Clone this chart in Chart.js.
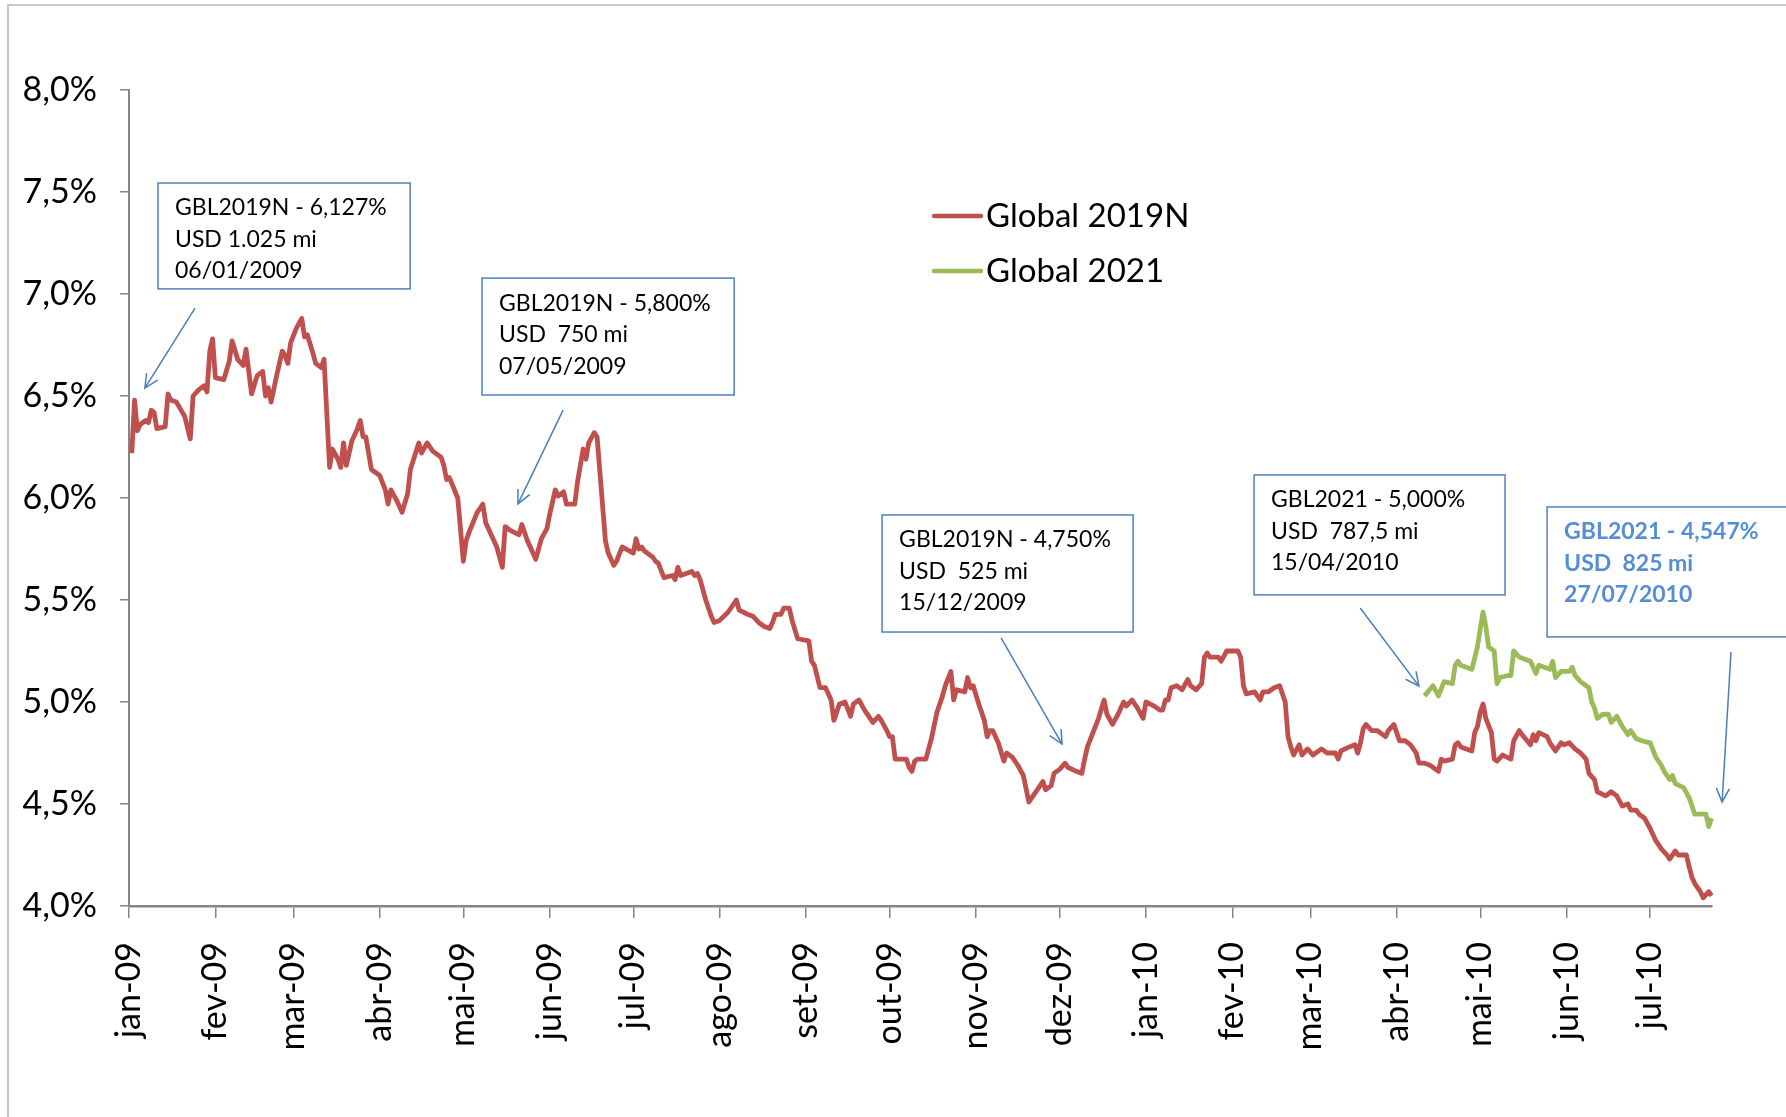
<!DOCTYPE html>
<html>
<head>
<meta charset="utf-8">
<script src="https://cdn.jsdelivr.net/npm/chart.js@4.4.1/dist/chart.umd.min.js"></script>
<style>
html,body{margin:0;padding:0;background:#fff;}
#wrap{position:relative;width:1786px;height:1117px;}
</style>
</head>
<body>
<div id="wrap"><canvas id="c" width="1786" height="1117"></canvas></div>
<script>
// ---------------- DATA ----------------
const seriesNames = ['Global 2019N', 'Global 2021'];
const monthLabels = ['jan-09','fev-09','mar-09','abr-09','mai-09','jun-09','jul-09','ago-09','set-09','out-09','nov-09','dez-09',
                     'jan-10','fev-10','mar-10','abr-10','mai-10','jun-10','jul-10'];
// x values: days counted from 01/01/2009
const days2019N = [1,2,3,4,6,7,8,9,10,13,14,15,17,20,22,23,25,27,28,29,30,31,34,36,37,39,41,42,44,46,48,49,50,51,53,55,56,57,58,60,62,63,64,66,67,69,70,72,73,75,76,77,78,80,82,83,84,85,87,90,92,93,94,96,98,100,101,104,105,107,109,112,113,114,115,118,120,121,122,125,127,128,132,134,135,137,140,141,143,146,148,150,151,152,153,154,156,157,160,161,163,164,165,167,168,171,172,174,175,177,181,182,183,184,185,188,189,190,192,195,196,197,198,202,203,204,205,207,209,210,212,215,218,219,222,224,226,228,230,231,232,234,235,237,238,240,244,245,246,248,250,252,253,255,257,259,260,262,264,267,269,270,272,273,274,275,277,279,280,281,282,283,286,288,290,292,293,295,296,297,300,301,302,303,305,307,308,309,310,312,314,315,317,319,321,323,325,328,329,331,332,334,336,337,340,342,343,344,346,348,350,351,353,355,357,358,360,362,364,365,368,370,371,372,373,374,376,378,380,381,383,385,386,387,388,391,392,394,396,398,399,400,401,404,406,407,409,411,413,415,416,417,418,420,421,423,425,428,430,433,434,435,438,440,441,442,443,444,446,448,451,452,454,456,458,460,462,463,465,467,470,471,472,475,476,477,478,482,483,484,485,486,487,489,490,491,493,496,497,499,500,503,504,505,506,509,510,512,514,515,517,519,521,523,524,526,527,530,532,534,536,538,539,541,542,544,546,548,550,552,553,555,556,559,560,561,562,564,565,567,568];
const values2019N = [6.22,6.48,6.33,6.36,6.38,6.37,6.43,6.42,6.34,6.35,6.51,6.48,6.47,6.40,6.29,6.50,6.53,6.55,6.52,6.72,6.78,6.59,6.58,6.67,6.77,6.68,6.65,6.73,6.51,6.60,6.62,6.50,6.54,6.47,6.60,6.72,6.70,6.66,6.76,6.83,6.88,6.79,6.80,6.71,6.66,6.64,6.68,6.15,6.24,6.19,6.15,6.27,6.16,6.28,6.34,6.38,6.30,6.30,6.14,6.11,6.04,5.97,6.04,5.99,5.93,6.02,6.14,6.27,6.22,6.27,6.23,6.20,6.16,6.09,6.10,6.00,5.69,5.79,5.83,5.93,5.97,5.88,5.76,5.66,5.86,5.84,5.82,5.87,5.79,5.70,5.80,5.85,5.92,5.98,6.04,6.01,6.03,5.97,5.97,6.08,6.24,6.19,6.27,6.32,6.30,5.79,5.73,5.67,5.69,5.76,5.73,5.80,5.75,5.76,5.74,5.71,5.69,5.68,5.61,5.62,5.60,5.66,5.62,5.64,5.62,5.63,5.60,5.50,5.42,5.39,5.40,5.44,5.50,5.45,5.43,5.42,5.39,5.37,5.36,5.39,5.43,5.43,5.46,5.46,5.40,5.31,5.30,5.20,5.18,5.07,5.07,5.01,4.91,4.99,5.00,4.93,4.99,5.01,4.96,4.90,4.93,4.91,4.86,4.83,4.83,4.72,4.72,4.72,4.68,4.66,4.71,4.72,4.72,4.82,4.95,5.03,5.08,5.15,5.01,5.06,5.05,5.12,5.07,5.08,4.99,4.91,4.83,4.86,4.86,4.80,4.71,4.75,4.73,4.69,4.64,4.51,4.55,4.61,4.57,4.59,4.65,4.67,4.70,4.68,4.66,4.65,4.72,4.78,4.85,4.92,5.01,4.94,4.89,4.94,5.00,4.98,5.01,4.97,4.92,5.00,4.98,4.96,4.96,5.01,5.01,5.07,5.08,5.06,5.11,5.08,5.06,5.09,5.22,5.24,5.22,5.22,5.20,5.25,5.25,5.25,5.22,5.08,5.04,5.05,5.01,5.05,5.05,5.07,5.08,5.00,4.83,4.78,4.74,4.79,4.74,4.77,4.74,4.77,4.75,4.75,4.72,4.76,4.78,4.79,4.75,4.80,4.87,4.89,4.86,4.86,4.83,4.86,4.89,4.81,4.81,4.79,4.75,4.70,4.70,4.69,4.66,4.72,4.71,4.72,4.79,4.80,4.78,4.76,4.85,4.88,4.95,4.99,4.92,4.85,4.72,4.71,4.74,4.72,4.81,4.86,4.84,4.79,4.84,4.81,4.85,4.83,4.80,4.76,4.80,4.79,4.80,4.77,4.75,4.72,4.65,4.62,4.56,4.54,4.56,4.54,4.49,4.50,4.47,4.47,4.45,4.43,4.38,4.32,4.28,4.25,4.23,4.27,4.25,4.25,4.19,4.14,4.11,4.07,4.04,4.07,4.05];
const days2021 = [465,468,470,472,475,476,477,478,482,484,485,486,487,488,490,491,492,495,496,497,499,501,503,505,506,508,510,511,512,514,517,518,519,521,524,525,526,527,529,531,532,534,536,538,539,541,543,546,548,550,551,553,554,555,558,560,561,562,565,566,567,568];
const values2021 = [5.03,5.08,5.03,5.10,5.09,5.18,5.20,5.18,5.16,5.27,5.36,5.44,5.37,5.27,5.25,5.09,5.12,5.13,5.13,5.25,5.22,5.21,5.20,5.14,5.18,5.17,5.16,5.20,5.12,5.15,5.15,5.17,5.13,5.10,5.07,5.00,4.97,4.92,4.94,4.94,4.90,4.93,4.88,4.84,4.86,4.82,4.81,4.80,4.73,4.69,4.66,4.62,4.64,4.60,4.58,4.53,4.49,4.45,4.45,4.45,4.39,4.43];
const yMin = 4.0, yMax = 8.0, yStep = 0.5;
const noteTexts = [
  ['GBL2019N - 6,127%', 'USD 1.025 mi', '06/01/2009'],
  ['GBL2019N - 5,800%', 'USD  750 mi', '07/05/2009'],
  ['GBL2019N - 4,750%', 'USD  525 mi', '15/12/2009'],
  ['GBL2021 - 5,000%', 'USD  787,5 mi', '15/04/2010'],
  ['GBL2021 - 4,547%', 'USD  825 mi', '27/07/2010']
];

// ---------------- LAYOUT / STYLE ----------------
const FONT = 'Lato, "Open Sans", sans-serif';
const RED = '#C0504D', GREEN = '#9BBB59', BLUE = '#4F81BD';
// boxes in data space: [day left, value top, day right, value bottom]; arrows: [day from, value from, day to, value to]
const noteLayout = [
  {box:[10.4,7.544,100.9,7.025], arrow:[23.7,6.931,5.7,6.539], bold:false},
  {box:[126.7,7.078,217.2,6.505], arrow:[155.8,6.431,139.6,5.971], bold:false},
  {box:[270.3,5.917,360.4,5.343], arrow:[313.0,5.314,334.9,4.794], bold:false},
  {box:[403.8,6.113,493.9,5.525], arrow:[441.9,5.461,463.0,5.078], bold:false},
  {box:[509.0,5.956,610.0,5.319], arrow:[575.0,5.245,571.8,4.510], bold:true}
];

const monthStartDays = monthLabels.map((_, i) => Math.round((Date.UTC(2009, i, 1) - Date.UTC(2009, 0, 1)) / 86400000));

const decor = {
  id: 'decor',
  afterDraw(chart) {
    const ctx = chart.ctx, xs = chart.scales.x, ys = chart.scales.y;
    ctx.save();
    // outer frame (top & left)
    ctx.strokeStyle = '#C8C8C8'; ctx.lineWidth = 2;
    ctx.beginPath(); ctx.moveTo(8, 1117); ctx.lineTo(8, 5); ctx.lineTo(1786, 5); ctx.stroke();

    // notes
    noteLayout.forEach((n, i) => {
      const l = xs.getPixelForValue(n.box[0]), t = ys.getPixelForValue(n.box[1]);
      const r = xs.getPixelForValue(n.box[2]), b = ys.getPixelForValue(n.box[3]);
      ctx.fillStyle = '#fff';
      ctx.fillRect(l, t, r - l, b - t);
      ctx.strokeStyle = BLUE; ctx.lineWidth = 1.5;
      ctx.strokeRect(l, t, r - l, b - t);
      ctx.fillStyle = n.bold ? '#558ED5' : '#000';
      ctx.font = (n.bold ? 'bold ' : '') + '23px ' + FONT;
      ctx.textAlign = 'left'; ctx.textBaseline = 'middle';
      noteTexts[i].forEach((s, k) => ctx.fillText(s, l + 17, t + 25 + k * 31.5));
      // arrow
      const x1 = xs.getPixelForValue(n.arrow[0]), y1 = ys.getPixelForValue(n.arrow[1]);
      const x2 = xs.getPixelForValue(n.arrow[2]), y2 = ys.getPixelForValue(n.arrow[3]);
      ctx.strokeStyle = '#4A7EBB'; ctx.lineWidth = 1.5;
      ctx.beginPath(); ctx.moveTo(x1, y1); ctx.lineTo(x2, y2); ctx.stroke();
      const ang = Math.atan2(y2 - y1, x2 - x1), hl = 15, ha = 0.45;
      ctx.beginPath();
      ctx.moveTo(x2 - hl * Math.cos(ang - ha), y2 - hl * Math.sin(ang - ha));
      ctx.lineTo(x2, y2);
      ctx.lineTo(x2 - hl * Math.cos(ang + ha), y2 - hl * Math.sin(ang + ha));
      ctx.stroke();
    });

    // legend
    const legColors = [RED, GREEN];
    ctx.font = '33px ' + FONT; ctx.textAlign = 'left'; ctx.textBaseline = 'middle';
    seriesNames.forEach((name, i) => {
      const y = 216 + i * 55;
      ctx.strokeStyle = legColors[i]; ctx.lineWidth = 4.5; ctx.lineCap = 'round';
      ctx.beginPath(); ctx.moveTo(934, y); ctx.lineTo(981, y); ctx.stroke();
      ctx.fillStyle = '#000';
      ctx.fillText(name, 986, y);
    });
    ctx.restore();
  }
};

const ctx = document.getElementById('c').getContext('2d');
new Chart(ctx, {
  type: 'line',
  data: {
    datasets: [
      { label: seriesNames[0], data: days2019N.map((d, i) => ({x: d, y: values2019N[i]})),
        borderColor: RED, borderWidth: 4.8, pointRadius: 0, tension: 0, borderJoinStyle: 'round', clip: 6 },
      { label: seriesNames[1], data: days2021.map((d, i) => ({x: d, y: values2021[i]})),
        borderColor: GREEN, borderWidth: 4.8, pointRadius: 0, tension: 0, borderJoinStyle: 'round', clip: 6 }
    ]
  },
  options: {
    responsive: false,
    animation: false,
    devicePixelRatio: 1,
    layout: { padding: { left: 0, top: 90, right: 74.5, bottom: 0 } },
    plugins: { legend: { display: false }, tooltip: { enabled: false } },
    scales: {
      x: {
        type: 'linear', min: 0, max: 568,
        afterBuildTicks: (s) => { s.ticks = monthStartDays.map(v => ({ value: v })); },
        afterFit: (s) => { s.height = 211; },
        grid: { drawOnChartArea: false, drawTicks: true, tickLength: 12, color: '#868686', lineWidth: 1.5 },
        border: { color: '#868686', width: 2.5 },
        ticks: {
          autoSkip: false, maxRotation: 90, minRotation: 90, padding: 24,
          color: '#000', font: { family: FONT, size: 34 },
          callback: (v) => { const i = monthStartDays.indexOf(v); return i >= 0 ? monthLabels[i] : ''; }
        }
      },
      y: {
        min: yMin, max: yMax,
        afterFit: (s) => { s.width = 129; },
        grid: { drawOnChartArea: false, drawTicks: true, tickLength: 9, color: '#868686', lineWidth: 1.5 },
        border: { color: '#868686', width: 2 },
        ticks: {
          stepSize: yStep, padding: 23, color: '#000', font: { family: FONT, size: 34 },
          callback: (v) => v.toFixed(1).replace('.', ',') + '%'
        }
      }
    }
  },
  plugins: [decor]
});
</script>
</body>
</html>
